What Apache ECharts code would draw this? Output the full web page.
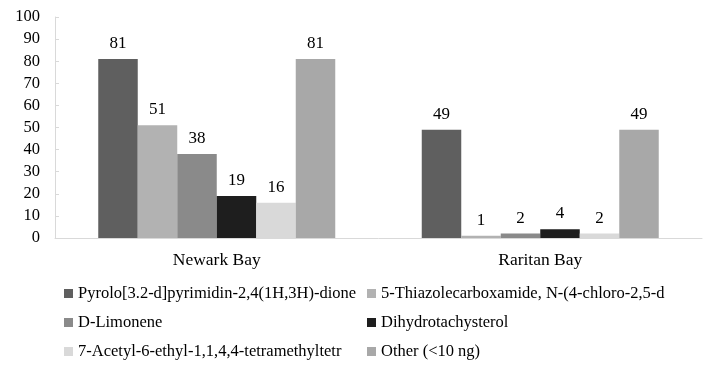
<!DOCTYPE html>
<html>
<head>
<meta charset="utf-8">
<script src="https://cdn.jsdelivr.net/npm/echarts@6/dist/echarts.min.js"></script>
<style>
html,body{margin:0;padding:0;background:#fff;}
#chart{width:716px;height:366px;}
</style>
</head>
<body>
<div id="chart"></div>
<script>
var categories = ['Newark Bay', 'Raritan Bay'];
var seriesNames = [
  'Pyrolo[3.2-d]pyrimidin-2,4(1H,3H)-dione',
  '5-Thiazolecarboxamide, N-(4-chloro-2,5-d',
  'D-Limonene',
  'Dihydrotachysterol',
  '7-Acetyl-6-ethyl-1,1,4,4-tetramethyltetr',
  'Other (<10 ng)'
];
var pyrolo = [81, 49];
var thiazole = [51, 1];
var limonene = [38, 2];
var dihydro = [19, 4];
var acetyl = [16, 2];
var other = [81, 49];
var yTicks = [0, 10, 20, 30, 40, 50, 60, 70, 80, 90, 100];

var seriesValues = [pyrolo, thiazole, limonene, dihydro, acetyl, other];
var colors = ['#5f5f5f', '#b2b2b2', '#8a8a8a', '#1e1e1e', '#d9d9d9', '#a8a8a8'];
var font = '"Liberation Serif", "Times New Roman", serif';

var chart = echarts.init(document.getElementById('chart'), null, {renderer: 'canvas'});
var series = seriesValues.map(function (vals, i) {
  return {
    name: seriesNames[i],
    type: 'bar',
    data: vals,
    barWidth: 39.5,
    barGap: '0%',
    itemStyle: {color: colors[i]},
    label: {
      show: true,
      position: 'top',
      distance: 7,
      color: '#000',
      fontFamily: font,
      fontSize: 17
    },
    emphasis: {disabled: true},
    animation: false
  };
});

var legendCommon = {
  orient: 'vertical',
  itemWidth: 9,
  itemHeight: 9,
  itemGap: 12,
  padding: 0,
  height: 90,
  icon: 'rect',
  textStyle: {fontFamily: font, fontSize: 16.5, color: '#000', lineHeight: 16},
  selectedMode: false,
  top: 285
};

chart.setOption({
  animation: false,
  color: colors,
  grid: {left: 55, right: 14, top: 17, bottom: 128, containLabel: false},
  legend: [
    Object.assign({}, legendCommon, {left: 64, data: [seriesNames[0], seriesNames[2], seriesNames[4]]}),
    Object.assign({}, legendCommon, {left: 367, data: [seriesNames[1], seriesNames[3], seriesNames[5]]})
  ],
  xAxis: {
    type: 'category',
    data: categories,
    axisLine: {show: true, lineStyle: {color: '#d9d9d9', width: 1}},
    axisTick: {show: false},
    axisLabel: {fontFamily: font, fontSize: 17.5, color: '#000', margin: 13}
  },
  yAxis: {
    type: 'value',
    min: 0,
    max: 100,
    interval: 10,
    axisLine: {show: true, lineStyle: {color: '#d9d9d9', width: 1}},
    axisTick: {show: true, inside: true, length: 4, lineStyle: {color: '#d9d9d9'}},
    splitLine: {show: false},
    axisLabel: {
      fontFamily: font, fontSize: 16.5, color: '#000', margin: 15,
      formatter: function (v) { return yTicks.indexOf(v) >= 0 ? String(v) : ''; }
    }
  },
  series: series
});
</script>
</body>
</html>
